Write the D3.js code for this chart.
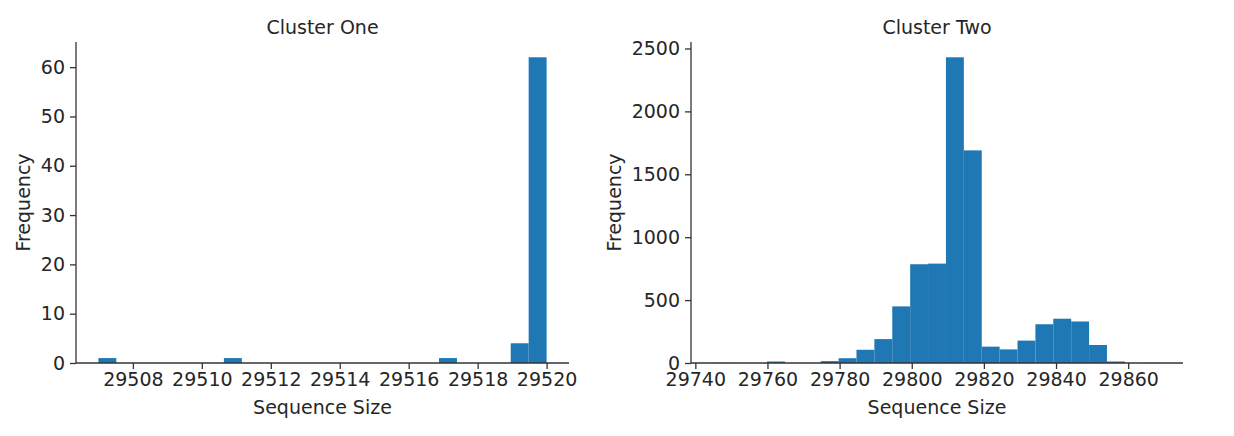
<!DOCTYPE html>
<html>
<head>
<meta charset="utf-8">
<script src="https://cdn.jsdelivr.net/npm/d3@7"></script>
<style>
  body { margin: 0; background: #fff; }
  svg text { font-family: "DejaVu Sans", sans-serif; fill: #262626; }
</style>
</head>
<body>
<svg width="1234" height="436"></svg>
<script>
const width = 1234;
const height = 436;

// cluster one: 25 bins between the smallest and largest sequence size
const oneRange = [29507, 29520];
const oneCounts = [1, 0, 0, 0, 0, 0, 0, 1, 0, 0, 0, 0, 0, 0, 0, 0, 0, 0, 0, 1, 0, 0, 0, 4, 62];
const oneXTicks = [29508, 29510, 29512, 29514, 29516, 29518, 29520];
const oneYTicks = [0, 10, 20, 30, 40, 50, 60];

// cluster two
const twoRange = [29745, 29869];
const twoCounts = [1, 0, 0, 12, 0, 0, 15, 38, 105, 190, 450, 785, 790, 2430, 1690,
    130, 108, 178, 308, 352, 330, 143, 12, 0, 1];
const twoXTicks = [29740, 29760, 29780, 29800, 29820, 29840, 29860];
const twoYTicks = [0, 500, 1000, 1500, 2000, 2500];

const panels = [
    { title: 'Cluster One', range: oneRange, counts: oneCounts, xTicks: oneXTicks, yTicks: oneYTicks, left: 76, right: 569, labelX: 30 },
    { title: 'Cluster Two', range: twoRange, counts: twoCounts, xTicks: twoXTicks, yTicks: twoYTicks, left: 691, right: 1183, labelX: 621 },
];

const plotTop = 42;
const plotBottom = 363;
const fontSize = '19px';

const drawPanel = (svg, p) => {
    const n = p.counts.length;
    const step = (p.range[1] - p.range[0]) / n;
    const pad = (p.range[1] - p.range[0]) * 0.05;

    const bins = p.counts.map((c, i) => ({
        x0: p.range[0] + i * step,
        x1: p.range[0] + (i + 1) * step,
        count: c,
    }));

    const x = d3.scaleLinear()
        .domain([p.range[0] - pad, p.range[1] + pad])
        .range([p.left, p.right]);

    const y = d3.scaleLinear()
        .domain([0, d3.max(p.counts) * 1.05])
        .range([plotBottom, plotTop]);

    const g = svg.append('g');

    g.selectAll('.bar')
        .data(bins.filter(b => b.count > 0))
        .enter().append('rect')
        .attr('class', 'bar')
        .attr('x', d => x(d.x0))
        .attr('width', d => x(d.x1) - x(d.x0))
        .attr('y', d => y(d.count))
        .attr('height', d => y(0) - y(d.count))
        .style('fill', '#1f77b4');

    const xAxis = g.append('g')
        .attr('transform', `translate(0,${plotBottom})`)
        .call(d3.axisBottom(x).tickValues(p.xTicks).tickSize(6).tickPadding(4).tickFormat(d3.format('d')));

    const yAxis = g.append('g')
        .attr('transform', `translate(${p.left},0)`)
        .call(d3.axisLeft(y).tickValues(p.yTicks).tickSize(6).tickPadding(5).tickFormat(d3.format('d')));

    [xAxis, yAxis].forEach(a => {
        a.select('.domain').attr('stroke', '#333').attr('stroke-width', 1.3);
        a.selectAll('.tick line').attr('stroke', '#333').attr('stroke-width', 1.3);
        a.selectAll('.tick text').style('font-size', fontSize).style('fill', '#262626');
    });
    xAxis.select('.domain').attr('d', `M${p.left},0H${p.right}`);
    yAxis.select('.domain').attr('d', `M0,${plotBottom}V${plotTop}`);

    svg.append('text')
        .attr('x', (p.left + p.right) / 2)
        .attr('y', 34)
        .attr('text-anchor', 'middle')
        .style('font-size', fontSize)
        .text(p.title);

    svg.append('text')
        .attr('x', (p.left + p.right) / 2)
        .attr('y', 414)
        .attr('text-anchor', 'middle')
        .style('font-size', fontSize)
        .text('Sequence Size');

    svg.append('text')
        .attr('transform', `translate(${p.labelX},${(plotTop + plotBottom) / 2}) rotate(-90)`)
        .attr('text-anchor', 'middle')
        .style('font-size', fontSize)
        .text('Frequency');
};

const render = () => {
    const svg = d3.select('svg')
        .attr('width', width)
        .attr('height', height);
    panels.forEach(p => drawPanel(svg, p));
};

document.addEventListener('DOMContentLoaded', () => {
    render();
});
</script>
</body>
</html>
